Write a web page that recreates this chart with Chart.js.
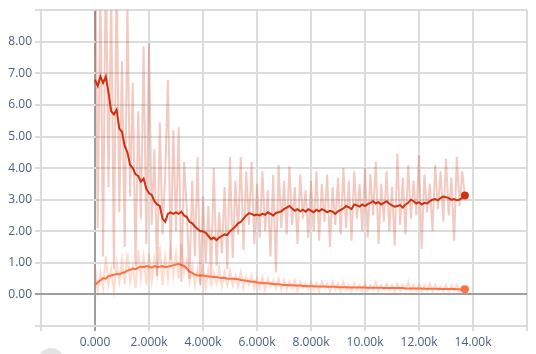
<!DOCTYPE html>
<html>
<head>
<meta charset="utf-8">
<script src="https://cdn.jsdelivr.net/npm/chart.js@4"></script>
<style>
  html, body { margin: 0; padding: 0; background: #fff; overflow: hidden; }
  #wrap { position: relative; width: 536px; height: 354px; }
  #knob { position: absolute; left: 38px; top: 348px; width: 26px; height: 26px; border-radius: 50%; background: #e3e3e3; }
</style>
</head>
<body>
<div id="wrap">
  <canvas id="chart" width="536" height="354"></canvas>
  <div id="knob"></div>
</div>
<script>
// training steps
const steps = [
  0, 100, 200, 300, 400, 500, 600, 700, 800, 900,
  1000, 1100, 1200, 1300, 1400, 1500, 1600, 1700, 1800, 1900,
  2000, 2100, 2200, 2300, 2400, 2500, 2600, 2700, 2800, 2900,
  3000, 3100, 3200, 3300, 3400, 3500, 3600, 3700, 3800, 3900,
  4000, 4100, 4200, 4300, 4400, 4500, 4600, 4700, 4800, 4900,
  5000, 5100, 5200, 5300, 5400, 5500, 5600, 5700, 5800, 5900,
  6000, 6100, 6200, 6300, 6400, 6500, 6600, 6700, 6800, 6900,
  7000, 7100, 7200, 7300, 7400, 7500, 7600, 7700, 7800, 7900,
  8000, 8100, 8200, 8300, 8400, 8500, 8600, 8700, 8800, 8900,
  9000, 9100, 9200, 9300, 9400, 9500, 9600, 9700, 9800, 9900,
  10000, 10100, 10200, 10300, 10400, 10500, 10600, 10700, 10800, 10900,
  11000, 11100, 11200, 11300, 11400, 11500, 11600, 11700, 11800, 11900,
  12000, 12100, 12200, 12300, 12400, 12500, 12600, 12700, 12800, 12900,
  13000, 13100, 13200, 13300, 13400, 13500, 13600, 13700
];

// red run: raw values
const redRaw = [
  12, 2.1, 9.8, 1.2, 11, 3.4, 9.6, 0.8, 10.5, 2.6,
  7.4, 1.5, 9.2, 3.1, 6.7, 0.9, 5.8, 2.4, 7.85, 1.6,
  7.95, 2.2, 4.6, 0.6, 5.45, 1.9, 3.8, 6.8, 1.1, 5.2,
  2.0, 5.3, 0.4, 4.2, 2.7, 0.5, 3.6, 1.2, 4.35, 0.3,
  3.1, 1.0, 2.8, 0.6, 4.0, 0.9, 2.6, 1.3, 3.4, 0.8,
  4.35, 1.15, 3.6, 1.9, 4.35, 1.4, 3.9, 2.2, 4.2, 1.6,
  3.5, 1.8, 3.9, 2.0, 3.3, 1.2, 3.8, 0.7, 4.1, 2.1,
  3.6, 1.9, 4.05, 2.2, 3.4, 1.6, 3.8, 2.4, 3.3, 1.8,
  3.6, 2.0, 3.9, 1.7, 3.5, 2.3, 3.8, 1.5, 3.4, 2.2,
  3.7, 1.9, 4.0, 2.1, 3.6, 1.7, 3.9, 2.4, 3.5, 2.0,
  4.0, 1.8, 3.8, 2.5, 4.2, 1.6, 3.5, 2.3, 3.9, 2.0,
  3.4, 1.55, 4.45, 2.2, 3.7, 1.9, 4.1, 2.4, 3.6, 2.5,
  4.4, 1.45, 3.8, 2.6, 3.5, 2.0, 4.1, 2.7, 3.9, 2.3,
  4.3, 2.5, 3.7, 1.7, 4.35, 2.8, 3.9, 3.1
];

// red run: smoothed values
const redSmooth = [
  6.8, 6.6, 6.9, 6.7, 6.9, 6.4, 5.8, 5.7, 5.85, 5.25,
  5.15, 4.7, 4.5, 4.1, 4.0, 3.8, 3.75, 3.57, 3.67, 3.35,
  3.2, 3.15, 2.95, 2.85, 2.8, 2.4, 2.3, 2.55, 2.6, 2.55,
  2.6, 2.55, 2.62, 2.5, 2.45, 2.3, 2.25, 2.15, 2.07, 2.0,
  2.0, 1.95, 1.85, 1.75, 1.8, 1.72, 1.8, 1.85, 1.9, 1.88,
  2.0, 2.07, 2.15, 2.25, 2.3, 2.4, 2.5, 2.57, 2.55, 2.5,
  2.53, 2.5, 2.56, 2.52, 2.6, 2.55, 2.5, 2.58, 2.6, 2.63,
  2.7, 2.75, 2.8, 2.72, 2.65, 2.7, 2.63, 2.68, 2.62, 2.7,
  2.65, 2.6, 2.68, 2.63, 2.7, 2.66, 2.6, 2.65, 2.62, 2.55,
  2.63, 2.68, 2.72, 2.8, 2.76, 2.7, 2.85, 2.82, 2.78, 2.85,
  2.8, 2.86, 2.9, 2.95, 2.88, 2.92, 2.85, 2.9, 2.95, 2.87,
  2.82, 2.78, 2.8, 2.83, 2.75, 2.85, 2.9, 3.0, 2.95, 2.88,
  2.92, 2.85, 2.9, 2.88, 2.95, 3.0, 3.02, 2.98, 3.05, 3.1,
  3.08, 3.05, 3.0, 3.02, 2.98, 3.0, 3.05, 3.13
];

// orange run: raw values
const orangeRaw = [
  0.9, 0.1, 0.7, 0.2, 1.2, 0.3, 0.8, 0.1, 1.0, 0.4,
  1.1, 0.3, 1.3, 0.4, 0.9, 0.2, 1.4, 0.5, 1.2, 0.3,
  1.3, 0.4, 1.1, 0.6, 1.5, 0.3, 1.2, 0.5, 1.4, 0.6,
  1.3, 0.5, 1.6, 0.7, 1.1, 0.4, 0.9, 0.3, 0.8, 0.4,
  0.9, 0.2, 0.8, 0.3, 0.7, 0.35, 0.85, 0.25, 0.7, 0.3,
  0.75, 0.3, 0.6, 0.25, 0.7, 0.2, 0.55, 0.3, 0.6, 0.2,
  0.5, 0.2, 0.55, 0.15, 0.5, 0.25, 0.45, 0.2, 0.5, 0.15,
  0.45, 0.15, 0.4, 0.2, 0.45, 0.1, 0.4, 0.2, 0.35, 0.15,
  0.4, 0.15, 0.35, 0.1, 0.4, 0.2, 0.35, 0.1, 0.4, 0.15,
  0.35, 0.1, 0.4, 0.15, 0.3, 0.1, 0.35, 0.15, 0.3, 0.1,
  0.35, 0.12, 0.3, 0.15, 0.4, 0.1, 0.3, 0.15, 0.35, 0.12,
  0.3, 0.1, 0.35, 0.12, 0.3, 0.15, 0.4, 0.1, 0.3, 0.12,
  0.3, 0.1, 0.28, 0.12, 0.35, 0.1, 0.3, 0.12, 0.25, 0.1,
  0.3, 0.1, 0.28, 0.12, 0.3, 0.1, 0.25, 0.14
];

// orange run: smoothed values
const orangeSmooth = [
  0.3, 0.38, 0.45, 0.52, 0.5, 0.58, 0.6, 0.62, 0.65, 0.63,
  0.68, 0.7, 0.75, 0.78, 0.82, 0.8, 0.85, 0.88, 0.86, 0.9,
  0.88, 0.85, 0.9, 0.87, 0.88, 0.9, 0.86, 0.88, 0.9, 0.92,
  0.95, 0.97, 0.93, 0.9, 0.82, 0.72, 0.68, 0.63, 0.6, 0.6,
  0.6, 0.58, 0.57, 0.56, 0.55, 0.55, 0.53, 0.52, 0.53, 0.5,
  0.5, 0.5, 0.49, 0.48, 0.46, 0.45, 0.43, 0.42, 0.4, 0.4,
  0.38, 0.37, 0.36, 0.35, 0.35, 0.34, 0.33, 0.32, 0.32, 0.31,
  0.3, 0.3, 0.29, 0.29, 0.28, 0.28, 0.28, 0.27, 0.27, 0.26,
  0.26, 0.26, 0.25, 0.25, 0.25, 0.25, 0.24, 0.24, 0.24, 0.24,
  0.23, 0.23, 0.23, 0.23, 0.22, 0.22, 0.22, 0.22, 0.22, 0.22,
  0.22, 0.21, 0.21, 0.21, 0.21, 0.21, 0.21, 0.2, 0.2, 0.2,
  0.2, 0.2, 0.2, 0.2, 0.2, 0.19, 0.19, 0.19, 0.19, 0.19,
  0.19, 0.19, 0.18, 0.18, 0.18, 0.18, 0.18, 0.18, 0.17, 0.17,
  0.17, 0.17, 0.17, 0.17, 0.16, 0.16, 0.16, 0.16
];

// axis ticks
const xTicks = [-2000, 0, 2000, 4000, 6000, 8000, 10000, 12000, 14000, 16000];
const xTickLabels = ['', '0.000', '2.000k', '4.000k', '6.000k', '8.000k', '10.00k', '12.00k', '14.00k', ''];
const yTicks = [-1, 0, 1, 2, 3, 4, 5, 6, 7, 8, 9];
const yTickLabels = ['', '0.00', '1.00', '2.00', '3.00', '4.00', '5.00', '6.00', '7.00', '8.00', ''];

const toPoints = vals => vals.map((v, i) => ({ x: steps[i], y: v }));
const lastDot = ctx => ctx.dataIndex === steps.length - 1 ? 4 : 0;

const gridColor = ctx => ctx.tick && ctx.tick.value === 0 ? '#9e9e9e' : '#dcdcdc';

new Chart(document.getElementById('chart'), {
    type: 'line',
    data: {
        datasets: [
            {
                label: 'red raw',
                data: toPoints(redRaw),
                borderColor: 'rgba(204, 51, 17, 0.26)',
                borderWidth: 2,
                pointRadius: 0,
                tension: 0
            },
            {
                label: 'orange raw',
                data: toPoints(orangeRaw),
                borderColor: 'rgba(255, 112, 67, 0.26)',
                borderWidth: 2,
                pointRadius: 0,
                tension: 0
            },
            {
                label: 'red',
                data: toPoints(redSmooth),
                borderColor: '#cc3311',
                backgroundColor: '#cc3311',
                borderWidth: 2,
                pointRadius: lastDot,
                pointBorderWidth: 0,
                tension: 0
            },
            {
                label: 'orange',
                data: toPoints(orangeSmooth),
                borderColor: '#ff7043',
                backgroundColor: '#ff7043',
                borderWidth: 2,
                pointRadius: lastDot,
                pointBorderWidth: 0,
                tension: 0
            }
        ]
    },
    options: {
        responsive: false,
        animation: false,
        layout: { padding: { top: 7, right: 9, left: 0, bottom: 0 } },
        plugins: {
            legend: { display: false },
            tooltip: { enabled: false }
        },
        scales: {
            x: {
                type: 'linear',
                min: xTicks[0],
                max: xTicks[xTicks.length - 1],
                afterBuildTicks: axis => { axis.ticks = xTicks.map(v => ({ value: v })); },
                afterFit: axis => { axis.height = 28; },
                grid: { color: gridColor, lineWidth: 2, tickLength: 5 },
                border: { display: false },
                ticks: {
                    autoSkip: false,
                    maxRotation: 0,
                    padding: 4,
                    color: '#4b5d7d',
                    font: { family: 'Open Sans', size: 12 },
                    callback: v => xTickLabels[xTicks.indexOf(v)]
                }
            },
            y: {
                min: yTicks[0],
                max: yTicks[yTicks.length - 1],
                afterBuildTicks: axis => { axis.ticks = yTicks.map(v => ({ value: v })); },
                afterFit: axis => { axis.width = 41; },
                grid: { color: gridColor, lineWidth: 2, tickLength: 6 },
                border: { display: false },
                ticks: {
                    padding: 3,
                    color: '#4b5d7d',
                    font: { family: 'Open Sans', size: 12 },
                    callback: v => yTickLabels[yTicks.indexOf(v)]
                }
            }
        }
    }
});
</script>
</body>
</html>
